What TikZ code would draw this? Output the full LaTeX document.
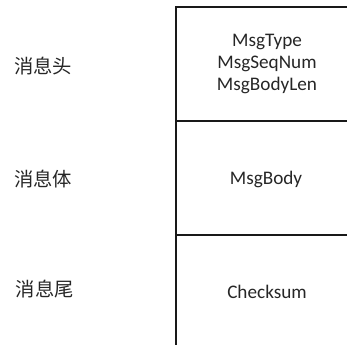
\documentclass[tikz,border=0pt]{standalone}
\usepackage{fontspec}
\setmainfont{Carlito}
\newfontfamily\cjk{Noto Sans CJK SC}
\begin{document}
\begin{tikzpicture}[x=0.75pt,y=-0.75pt,
  frame/.style={line width=1.5pt,draw=black!90},
  field/.style={font=\fontsize{14.4}{16.8}\selectfont,text=black!85,align=center,inner sep=0pt},
  part/.style={font=\cjk\fontsize{14.5}{16}\selectfont,text=black!85,inner sep=0pt}]
\useasboundingbox (0,0) rectangle (347,345);
\coordinate (tl) at (176,7);
\coordinate (tr) at (350,7);
\coordinate (bl) at (176,350);
\coordinate (m1l) at (176,121);
\coordinate (m1r) at (350,121);
\coordinate (m2l) at (176,235);
\coordinate (m2r) at (350,235);
\draw[frame] (bl) -- (tl) -- (tr);
\draw[frame] (m1l) -- (m1r);
\draw[frame] (m2l) -- (m2r);
\node[field] (head) at (267,64) {MsgType\\MsgSeqNum\\MsgBodyLen};
\node[field] (body) at (266,179) {MsgBody};
\node[field] (tail) at (267,292) {Checksum};
\node[part] (lhead) at (43,66) {消息头};
\node[part] (lbody) at (43,179) {消息体};
\node[part] (ltail) at (45,289) {消息尾};
\end{tikzpicture}
\end{document}
